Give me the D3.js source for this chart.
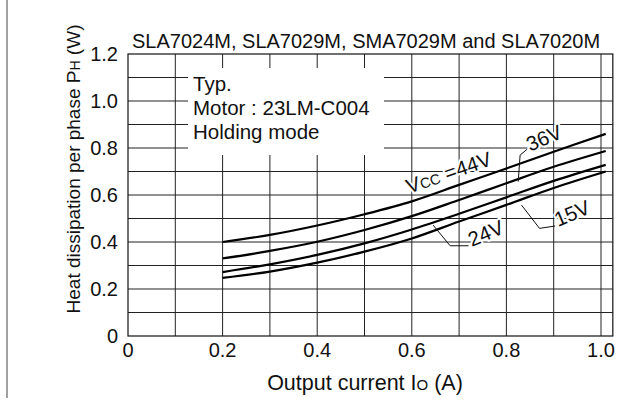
<!DOCTYPE html>
<html>
<head>
<meta charset="utf-8">
<script src="https://cdn.jsdelivr.net/npm/d3@7"></script>
<style>
  body { margin: 0; background: #fff; }
  svg text { font-family: Arial, "Liberation Sans", sans-serif; fill: #111; }
</style>
</head>
<body>
<svg class="heat-chart" width="623" height="403"></svg>
<script>
// output current (A) at which the curves were read
const current = [0.2, 0.3, 0.4, 0.5, 0.6, 0.7, 0.8, 0.9, 1.01];

// heat dissipation per phase (W) for each supply voltage
const vcc44 = [0.40, 0.43, 0.47, 0.518, 0.573, 0.643, 0.713, 0.784, 0.86];
const vcc36 = [0.33, 0.362, 0.401, 0.451, 0.51, 0.579, 0.65, 0.72, 0.787];
const vcc24 = [0.272, 0.305, 0.345, 0.394, 0.453, 0.52, 0.59, 0.66, 0.728];
const vcc15 = [0.247, 0.274, 0.312, 0.359, 0.415, 0.487, 0.558, 0.63, 0.70];

const xTicks = [0, 0.2, 0.4, 0.6, 0.8, 1.0];
const yTicks = [0, 0.2, 0.4, 0.6, 0.8, 1.0, 1.2];
const legendLines = ["Typ.", "Motor : 23LM-C004", "Holding mode"];

// leader lines for the callouts, in data units [current, watts]
const leaders = [
    { label: "36V", path: [[0.825, 0.657], [0.829, 0.770], [0.844, 0.795]], at: [0.85, 0.784] },
    { label: "24V", path: [[0.645, 0.472], [0.681, 0.384], [0.72, 0.384]], at: [0.727, 0.379] },
    { label: "15V", path: [[0.832, 0.557], [0.87, 0.458], [0.903, 0.468]], at: [0.909, 0.464] }
];

function drawHeatChart() {
    const svg = d3.select("svg.heat-chart");
    const fs = 20.5, small = 14.5;

    const x = d3.scaleLinear().domain([0, 1]).range([128, 601]);
    const y = d3.scaleLinear().domain([0, 1.2]).range([336, 54]);

    // outer rule on the left edge of the page
    svg.append("line")
        .attr("x1", 7).attr("x2", 7)
        .attr("y1", 0).attr("y2", 398)
        .attr("stroke", "#444").attr("stroke-width", 1);

    const g = svg.append("g");

    // grid
    g.append("g")
        .selectAll("line")
        .data(d3.range(1, 11).map(i => i / 10))
        .join("line")
        .attr("x1", d => x(d)).attr("x2", d => x(d))
        .attr("y1", y(0)).attr("y2", y(1.2))
        .attr("stroke", "#222").attr("stroke-width", 1);

    g.append("g")
        .selectAll("line")
        .data(d3.range(1, 12).map(i => i / 10))
        .join("line")
        .attr("x1", x(0)).attr("x2", x(1.025))
        .attr("y1", d => y(d)).attr("y2", d => y(d))
        .attr("stroke", "#222").attr("stroke-width", 1);

    // frame
    g.append("rect")
        .attr("x", x(0)).attr("y", y(1.2))
        .attr("width", x(1.025) - x(0)).attr("height", y(0) - y(1.2))
        .attr("fill", "none").attr("stroke", "#111").attr("stroke-width", 1.2);

    // legend box blanks the grid behind it
    const legend = g.append("g");
    legend.append("rect")
        .attr("x", 188).attr("y", 68)
        .attr("width", 196).attr("height", 87)
        .attr("fill", "#fff");
    legend.selectAll("text")
        .data(legendLines)
        .join("text")
        .attr("x", 193)
        .attr("y", (d, i) => 91 + i * 24)
        .attr("font-size", fs)
        .text(d => d);

    // curves
    const line = d3.line()
        .curve(d3.curveCatmullRom)
        .x((d, i) => x(current[i]))
        .y(d => y(d));

    g.append("g")
        .selectAll("path")
        .data([vcc44, vcc36, vcc24, vcc15])
        .join("path")
        .attr("d", line)
        .attr("fill", "none")
        .attr("stroke", "#000")
        .attr("stroke-width", 2.2);

    // callouts
    const halo = sel => sel
        .attr("stroke", "#fff").attr("stroke-width", 4)
        .attr("paint-order", "stroke").attr("stroke-linejoin", "round");

    const leaderLine = d3.line().x(d => x(d[0])).y(d => y(d[1]));
    g.append("g")
        .selectAll("path")
        .data(leaders)
        .join("path")
        .attr("d", d => leaderLine(d.path))
        .attr("fill", "none").attr("stroke", "#111").attr("stroke-width", 1);

    g.append("g")
        .selectAll("text")
        .data(leaders)
        .join("text")
        .attr("transform", d => `translate(${x(d.at[0])},${y(d.at[1])}) rotate(-23)`)
        .attr("font-size", fs)
        .call(halo)
        .text(d => d.label);

    const vccLabel = g.append("text")
        .attr("transform", `translate(${x(0.594)},${y(0.605)}) rotate(-19)`)
        .attr("font-size", fs)
        .call(halo);
    vccLabel.append("tspan").text("V");
    vccLabel.append("tspan").attr("font-size", small).text("CC");
    vccLabel.append("tspan").text(" =44V");

    // tick labels
    svg.append("g")
        .selectAll("text")
        .data(yTicks)
        .join("text")
        .attr("x", 118)
        .attr("y", d => y(d))
        .attr("dy", "0.36em")
        .attr("text-anchor", "end")
        .attr("font-size", 20)
        .text(d => d === 0 ? "0" : d.toFixed(1));

    svg.append("g")
        .selectAll("text")
        .data(xTicks)
        .join("text")
        .attr("x", d => x(d))
        .attr("y", 357)
        .attr("text-anchor", "middle")
        .attr("font-size", 20)
        .text(d => d === 0 ? "0" : d.toFixed(1));

    // title and axis titles
    svg.append("text")
        .attr("x", 132).attr("y", 48)
        .attr("font-size", 20)
        .text("SLA7024M, SLA7029M, SMA7029M and SLA7020M");

    const xTitle = svg.append("text")
        .attr("x", 365).attr("y", 390)
        .attr("text-anchor", "middle")
        .attr("font-size", 21.5);
    xTitle.append("tspan").text("Output current I");
    xTitle.append("tspan").attr("font-size", 15).text("O");
    xTitle.append("tspan").text(" (A)");

    const yTitle = svg.append("text")
        .attr("transform", "translate(80,169) rotate(-90)")
        .attr("text-anchor", "middle")
        .attr("font-size", 19);
    yTitle.append("tspan").text("Heat dissipation per phase P");
    yTitle.append("tspan").attr("font-size", 14).text("H");
    yTitle.append("tspan").text(" (W)");
}

drawHeatChart();
</script>
</body>
</html>
